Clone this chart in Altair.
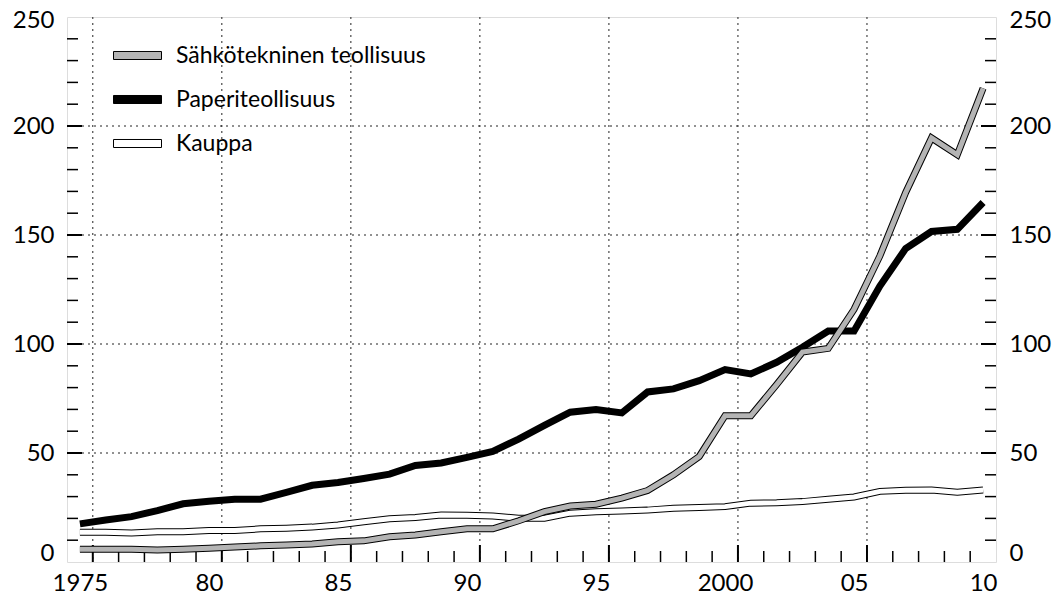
import altair as alt
import pandas as pd

# ---- data ----
years = list(range(1975, 2011))
sahko = [5.8, 5.8, 5.8, 5.5, 5.8, 6.3, 6.9, 7.4, 7.8, 8.3,
         9.3, 9.7, 11.6, 12.4, 13.9, 15.2, 15.2, 18.9, 23.1, 25.7,
         26.5, 29.3, 32.8, 40.0, 48.4, 67.1, 67.1, 81.4, 96.3, 98.0,
         115.9, 140.4, 169.5, 194.5, 186.8, 217.3]
paperi = [17.5, 19.3, 20.8, 23.6, 26.7, 27.9, 28.8, 28.8, 31.9, 35.2,
          36.5, 38.3, 40.3, 44.3, 45.4, 48.0, 50.7, 56.4, 62.7, 68.7,
          69.9, 68.4, 78.0, 79.4, 83.2, 88.3, 86.3, 91.6, 98.5, 106.0,
          106.0, 126.6, 143.8, 151.6, 152.6, 164.9]
kauppa = [13.6, 13.6, 13.3, 13.9, 13.9, 14.5, 14.5, 15.2, 15.5, 16.0,
          17.0, 18.5, 19.8, 20.4, 21.6, 21.5, 21.1, 20.1, 20.1, 22.4,
          23.1, 23.4, 23.8, 24.7, 25.0, 25.4, 27.0, 27.2, 27.7, 28.8,
          29.8, 32.4, 32.9, 33.0, 32.0, 33.0]

series_names = ["Sähkötekninen teollisuus", "Paperiteollisuus", "Kauppa"]
series_colors = ["#b4b4b4", "#000000", "#ffffff"]

label_years = [1975, 1980, 1985, 1990, 1995, 2000, 2005, 2010]
label_texts = ["1975", "80", "85", "90", "95", "2000", "05", "10"]
y_labels = [0, 50, 100, 150, 200, 250]

# ---- tables ----
rows = []
for name, vals in zip(series_names, [sahko, paperi, kauppa]):
    for yr, v in zip(years, vals):
        rows.append({"year": yr, "value": v, "series": name})
df = pd.DataFrame(rows)

x_grid = pd.DataFrame({"pos": [y + 0.5 for y in label_years[:-1]]})
x_minor = pd.DataFrame({"pos": [y + 0.5 for y in years[:-1] if (y + 0.5) not in list(x_grid["pos"])]})
y_grid = pd.DataFrame({"pos": y_labels[1:-1]})
y_minor = pd.DataFrame({"pos": [v for v in range(10, 250, 10) if v % 50 != 0]})

W, H = 929, 545
FONT = "Lato"
xs = alt.Scale(domain=[1974.5, 2010.5], nice=False, zero=False)
ys = alt.Scale(domain=[0, 250], nice=False, zero=False)

label_expr = " : ".join(
    [f"datum.value == {y} ? '{t}'" for y, t in zip(label_years, label_texts)]
) + " : ''"

end_shift = {"condition": [{"test": "datum.value == 0", "value": -9},
                           {"test": "datum.value == 250", "value": 3}],
             "value": 0}

def yaxis(orient):
    return alt.Axis(orient=orient, values=y_labels, ticks=False, grid=False, domain=False,
                    labelPadding=13, title=None, labelOffset=end_shift,
                    labelFont=FONT, labelFontSize=24, labelColor="black")

xaxis = alt.Axis(orient="bottom", values=label_years, labelExpr=label_expr, ticks=False,
                 grid=False, domain=False, labelPadding=9, title=None, labelFont=FONT,
                 labelFontSize=24, labelColor="black", labelFlush=False)

grid_style = dict(color="#222222", strokeWidth=1, strokeDash=[2, 4])

gx = alt.Chart(x_grid).mark_rule(**grid_style).encode(
    x=alt.X("pos:Q", scale=xs, axis=None))
gy = alt.Chart(y_grid).mark_rule(**grid_style).encode(
    y=alt.Y("pos:Q", scale=ys, axis=None))

tx_major = alt.Chart(x_grid).mark_rule(color="black", strokeWidth=2).encode(
    x=alt.X("pos:Q", scale=xs, axis=None), y=alt.value(H), y2=alt.value(H - 17))
tx_minor = alt.Chart(x_minor).mark_rule(color="black", strokeWidth=1.5).encode(
    x=alt.X("pos:Q", scale=xs, axis=None), y=alt.value(H), y2=alt.value(H - 11))
tyl_major = alt.Chart(y_grid).mark_rule(color="black", strokeWidth=2).encode(
    y=alt.Y("pos:Q", scale=ys, axis=None), x=alt.value(0), x2=alt.value(15))
tyl_minor = alt.Chart(y_minor).mark_rule(color="black", strokeWidth=1.5).encode(
    y=alt.Y("pos:Q", scale=ys, axis=None), x=alt.value(0), x2=alt.value(11))
tyr_major = alt.Chart(y_grid).mark_rule(color="black", strokeWidth=2).encode(
    y=alt.Y("pos:Q", scale=ys, axis=None), x=alt.value(W), x2=alt.value(W - 15))
tyr_minor = alt.Chart(y_minor).mark_rule(color="black", strokeWidth=1.5).encode(
    y=alt.Y("pos:Q", scale=ys, axis=None), x=alt.value(W), x2=alt.value(W - 11))

base = alt.Chart(df)

def line_layer(name, color, width, xax=None, yax=None):
    return base.transform_filter(alt.datum.series == name).mark_line(
        color=color, strokeWidth=width, strokeJoin="miter", strokeCap="butt"
    ).encode(
        x=alt.X("year:Q", scale=xs, axis=xax),
        y=alt.Y("value:Q", scale=ys, axis=yax),
    )

k_out = line_layer("Kauppa", "black", 7)
k_in = line_layer("Kauppa", "white", 5)
p_line = line_layer("Paperiteollisuus", "black", 7, xax=xaxis, yax=yaxis("left"))
s_out = line_layer("Sähkötekninen teollisuus", "black", 7)
s_in = line_layer("Sähkötekninen teollisuus", "#b4b4b4", 5, yax=yaxis("right"))

legend_layer = base.mark_point(filled=True, size=0, stroke="black", strokeWidth=1).encode(
    x=alt.X("year:Q", scale=xs, axis=None),
    y=alt.Y("value:Q", scale=ys, axis=None),
    fill=alt.Fill("series:N",
                  scale=alt.Scale(domain=series_names, range=series_colors),
                  sort=series_names,
                  legend=alt.Legend(title=None, orient="none", legendX=46, legendY=14,
                                    symbolType="M-1,-0.1667H1V0.1667H-1Z",
                                    symbolSize=2304, symbolStrokeColor="black",
                                    symbolStrokeWidth=1, symbolOpacity=1,
                                    labelFont=FONT, labelFontSize=23, labelColor="black",
                                    labelOffset=14, rowPadding=7, labelLimit=500)),
)

chart = alt.layer(
    gx, gy, tx_major, tx_minor, tyl_major, tyl_minor, tyr_major, tyr_minor,
    k_out, k_in, p_line, s_out, s_in, legend_layer
).resolve_axis(x="independent", y="independent").properties(
    width=W, height=H,
    autosize=alt.AutoSizeParams(type="none"),
    padding={"left": 59, "top": 9, "right": 60, "bottom": 36},
).configure_view(stroke="black", strokeWidth=2).configure(background="white")

chart.save("out.html", embed_options={"renderer": "svg", "actions": False})
